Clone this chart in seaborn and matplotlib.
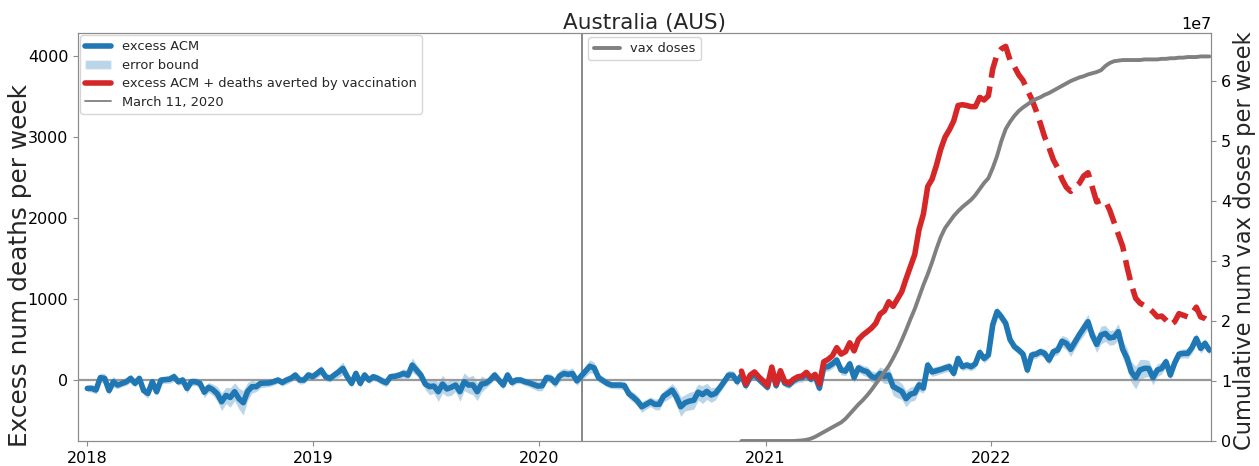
import matplotlib
matplotlib.use('Agg')
import matplotlib.pyplot as plt
import matplotlib.dates as mdates
from matplotlib.lines import Line2D
from matplotlib.patches import Patch
import pandas as pd
import seaborn as sns

# weekly excess all-cause mortality, first week 2018-01-01
excess_acm = [
    -103, -103, -123, 30, 21, -130, -21, -62, -41, -21, 21, -41, 21, -130, -165, -21, -144, 0, 5, 10,
    41, -21, 0, -103, -21, -21, -41, -150, -90, -120, -170, -268, -190, -215, -144, -230, -280, -140, -82, -82,
    -40, -38, -35, -20, 0,
    -30, 0, 21, 62, 0, 0, 62, 41, 80, 123, 41, 21, 62, 100, 144, 41, -41, 82, -41, 62,
    0, 41, 21, -10, -33, 41, 45, 60, 82, 60, 185, 123, 60, -50, -82, -74, -144, -50, -110, -90,
    -62, -144, -21, -62,
    -60, -144, -50, -40, 0, 62, 0, -62, 62, -30, 0, 0, -21, -35, -55, -75, -70, 30, 20, -35,
    50, 80, 70, 80, -10, 50, 110, 170, 150, 30, -5, -41, -62, -62, -62, -70, -170, -210, -260, -330,
    -300, -268, -300, -300,
    -200, -165, -123, -210, -330, -280, -260, -250, -150, -180, -140, -185, -165, -95, -20, 60, 60, -20,
    60, -70, 30, 70, 10, -40, -90, 120, -70, 80, -40, -60, -10, 20, 30, 70, 10, 50, -100,
    160, 165, 200, 247, 123, 110, 200, 30, 150, 120, 103, 45, 25, 82, 45, 62, -80, -110, -140, -230,
    -175, -160, -60, -100, 185, 100, 115, 130, 150, 165, 82, 267, 165, 185, 165, 200, 340, 267, 309,
    680, 844, 780, 700, 500, 412, 370, 320, 123, 309, 320, 350, 329, 247, 350, 370, 480, 453, 380, 470,
    560, 640, 720, 550, 440, 556, 576, 520, 530, 597, 380, 270, 100, 30, 125, 144, 144, 30, 123, 144,
    226, 62, 210, 320, 329, 329, 400, 514, 391, 453, 370,
]

# half width of the error band, same weeks
error_halfwidth = [
    40, 45, 50, 55, 60, 50, 70, 45, 40, 45, 50, 45, 40, 55, 60, 45, 50, 45, 45, 50, 55, 45, 50, 60, 50, 45,
    55, 70, 60, 70, 90, 110, 100, 120, 110, 130, 150, 110, 80, 60, 55, 50, 45, 45, 40,
    45, 50, 45, 45, 50, 45, 50, 50, 55, 60, 50, 45, 50, 70, 80, 60, 50, 50, 55, 50,
    45, 45, 45, 50, 50, 45, 50, 50, 55, 60, 90, 70, 60, 70, 100, 90, 120, 110, 90, 100,
    80, 120, 110, 100,
    120, 110, 100, 60, 50, 55, 50, 50, 55, 50, 45, 45, 45, 50, 55, 60, 60, 55, 55, 60,
    70, 65, 60, 70, 55, 60, 70, 80, 70, 55, 45, 45, 45, 45, 50, 55, 60, 60, 65, 70,
    60, 60, 65, 70,
    70, 75, 80, 110, 120, 100, 110, 110, 100, 110, 100, 90, 80, 60, 55, 60, 55, 55, 50, 50,
    50, 50, 50, 45, 50, 60, 50, 50, 45, 45, 45, 50, 55, 50, 45, 50, 60,
    50, 55, 55, 60, 60, 55, 60, 60, 55, 60, 65, 70, 75, 80, 90, 100, 110, 110, 100, 100,
    90, 90, 80, 60, 60, 55, 55, 50, 55, 55, 55, 50, 50, 50, 50, 55, 60, 55, 55,
    60, 60, 60, 55, 55, 50, 50, 50, 55, 55, 50, 50, 55, 55, 55, 60, 70, 80, 90, 80,
    80, 90, 90, 80, 100, 110, 100, 90, 90, 100, 110, 120, 130, 140, 130, 110, 100, 90, 80, 70,
    60, 60, 55, 55, 55, 60, 70, 60, 60, 60, 60,
]

# excess ACM + deaths averted by vaccination, first week 2020-11-23
excess_plus_averted = [
    110, -50, 60, 100, 40, -10, -70, 160, -50, 115, -20, -40, 10, 40, 50, 95, 30, 70, -50,
    226, 255, 300, 400, 320, 350, 460, 360, 500, 555, 597, 640, 700, 815, 855, 967, 910, 1000, 1090, 1250,
    1400, 1550, 1860, 2050, 2390, 2480, 2650, 2850, 3000, 3090, 3200, 3390, 3400, 3390, 3376, 3376, 3490, 3458, 3510,
    3840, 4020, 4090, 4120, 3950, 3870, 3770, 3700, 3580, 3470, 3330, 3170, 3000, 2870, 2720, 2620, 2480, 2380,
    2330, 2380, 2430, 2520, 2560, 2380, 2200, 2220, 2210, 2100, 1950, 1800, 1650, 1400, 1180, 1010, 950, 920,
    890, 840, 780, 790, 740, 680, 720, 820, 800, 780, 820, 900, 780, 760, 720,
]

# cumulative vax doses (units of 1e7), first week 2020-11-23
vax_doses_1e7 = [
    0, 0, 0, 0, 0, 0, 0, 0, 0, 0, 0, 0, 0,
    0.005, 0.01, 0.02, 0.04, 0.07, 0.11, 0.15, 0.19, 0.23, 0.27, 0.31, 0.37, 0.45, 0.53, 0.61, 0.68,
    0.76, 0.85, 0.95, 1.05, 1.15, 1.25, 1.38, 1.52, 1.68, 1.85, 2.03, 2.2, 2.4, 2.6, 2.78, 2.98,
    3.2, 3.4, 3.55, 3.65, 3.75, 3.83, 3.9, 3.96, 4.02, 4.1, 4.2, 4.3, 4.38, 4.55, 4.75, 5.0,
    5.2, 5.32, 5.42, 5.5, 5.56, 5.61, 5.66, 5.7, 5.73, 5.77, 5.8, 5.84, 5.88, 5.92, 5.96, 6.0,
    6.03, 6.06, 6.08, 6.11, 6.13, 6.15, 6.18, 6.25, 6.3, 6.33, 6.34, 6.35, 6.35, 6.35, 6.35, 6.35,
    6.36, 6.36, 6.36, 6.36, 6.37, 6.37, 6.38, 6.38, 6.39, 6.39, 6.40, 6.40, 6.40, 6.41, 6.41, 6.41,
]

first_week = '2018-01-01'
vax_first_week = '2020-11-23'
projection_from = '2021-12-13'   # red line becomes dashed from here
pandemic_date = '2020-03-11'

blue = '#1f77b4'
red = '#d62728'

acm = pd.DataFrame({
    'date': pd.date_range(first_week, periods=len(excess_acm), freq='7D'),
    'excess': excess_acm,
    'err': error_halfwidth,
})
acm['low'] = acm['excess'] - acm['err']
acm['high'] = acm['excess'] + acm['err']

vax = pd.DataFrame({
    'date': pd.date_range(vax_first_week, periods=len(vax_doses_1e7), freq='7D'),
    'averted': excess_plus_averted,
    'doses': [v * 1e7 for v in vax_doses_1e7],
})
solid = vax[vax['date'] <= projection_from]
dashed = vax[vax['date'] >= projection_from]

sns.set_style('ticks', {'axes.edgecolor': '0.55', 'xtick.color': '0.55', 'ytick.color': '0.55'})
plt.rcParams['xtick.labelcolor'] = 'black'
plt.rcParams['ytick.labelcolor'] = 'black'

fig = plt.figure(figsize=(12.59, 4.66), dpi=100)
ax = fig.add_axes([0.062, 0.0536, 0.9, 0.8755])

ax.fill_between(acm['date'], acm['low'], acm['high'], color=blue, alpha=0.3, lw=0)
ax.axhline(0, color='0.6', lw=1.6, zorder=1.5)
ax.axvline(pd.Timestamp(pandemic_date), color='0.5', lw=1.3)
sns.lineplot(data=acm, x='date', y='excess', ax=ax, color=blue, lw=4, legend=False)
sns.lineplot(data=solid, x='date', y='averted', ax=ax, color=red, lw=4, legend=False)
sns.lineplot(data=dashed, x='date', y='averted', ax=ax, color=red, lw=4, linestyle='--', legend=False)

ax.set_xlim(pd.Timestamp('2017-12-17'), pd.Timestamp('2022-12-22'))
ax.set_ylim(-753, 4285)
ax.xaxis.set_major_locator(mdates.YearLocator())
ax.xaxis.set_major_formatter(mdates.DateFormatter('%Y'))
ax.tick_params(labelsize=11.5)
ax.set_xlabel('')
ax.set_ylabel('Excess num deaths per week', fontsize=17.8)
ax.yaxis.set_label_coords(-0.041, 0.43)
ax.set_title('Australia (AUS)', fontsize=15.5, pad=0)

ax2 = ax.twinx()
sns.lineplot(data=vax, x='date', y='doses', ax=ax2, color='grey', lw=2.8, legend=False)
ax2.set_ylim(0, 6.8e7)
ax2.set_ylabel('Cumulative num vax doses per week', fontsize=16.3)
ax2.yaxis.set_label_coords(1.019, 0.49)
ax2.tick_params(labelsize=11.5)
ax2.yaxis.get_offset_text().set_fontsize(11.5)

handles = [
    Line2D([], [], color=blue, lw=4),
    Patch(facecolor=blue, alpha=0.3),
    Line2D([], [], color=red, lw=4),
    Line2D([], [], color='0.5', lw=1.3),
]
labels = ['excess ACM', 'error bound', 'excess ACM + deaths averted by vaccination', 'March 11, 2020']
ax.legend(handles, labels, loc='upper left', bbox_to_anchor=(0.0, 1.0), borderaxespad=0.15,
          fontsize=9.4, labelspacing=0.42, frameon=True)
ax2.legend([Line2D([], [], color='grey', lw=2.8)], ['vax doses'], loc='upper center',
           bbox_to_anchor=(0.5, 1.0), borderaxespad=0.3, fontsize=9.4, frameon=True)

fig.savefig('out.png', dpi=100)
